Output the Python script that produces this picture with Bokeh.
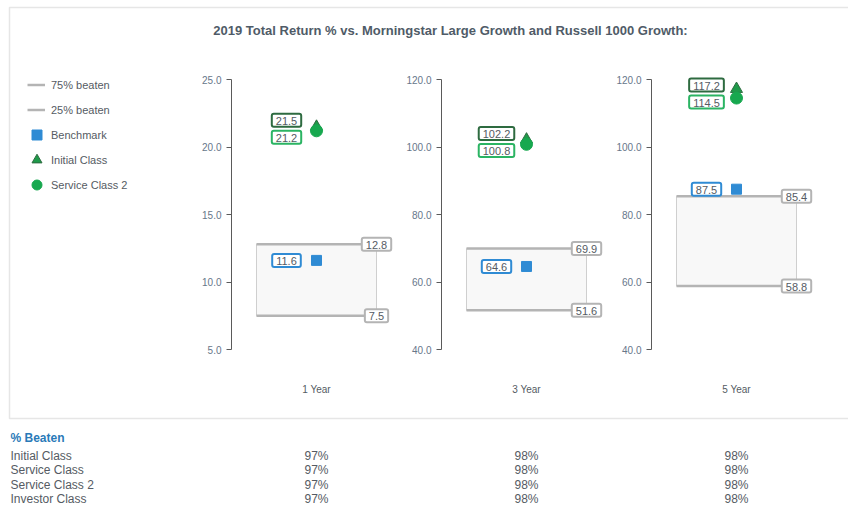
from bokeh.plotting import figure
from bokeh.models import Range1d, LinearAxis, FixedTicker, PrintfTickFormatter, Legend, LegendItem, ColumnDataSource, Label
from bokeh.core.properties import value
from bokeh.embed import file_html
from bokeh.resources import INLINE

# ---------------- data ----------------
periods = ["1 Year", "3 Year", "5 Year"]
beaten_75 = [12.8, 69.9, 85.4]
beaten_25 = [7.5, 51.6, 58.8]
benchmark = [11.6, 64.6, 87.5]
initial_class = [21.5, 102.2, 117.2]
service_class_2 = [21.2, 100.8, 114.5]
axis_min = [5.0, 40.0, 40.0]
axis_max = [25.0, 120.0, 120.0]
axis_ticks = [[5.0, 10.0, 15.0, 20.0, 25.0],
              [40.0, 60.0, 80.0, 100.0, 120.0],
              [40.0, 60.0, 80.0, 100.0, 120.0]]

table_rows = ["Initial Class", "Service Class", "Service Class 2", "Investor Class"]
pct_beaten = [[97, 98, 98], [97, 98, 98], [97, 98, 98], [97, 98, 98]]

title_text = "2019 Total Return % vs. Morningstar Large Growth and Russell 1000 Growth:"

# ---------------- styles ----------------
FONT = "Liberation Sans"
W, H = 848, 507
TOP_PX, BOT_PX = 79, 349          # pixel rows of axis max / min
COL0_PX, COL_STEP = 316, 210      # pixel centre of first column, column spacing
GRAY_TXT = "#555b63"
DARK_GREEN = "#2e6b40"
GREEN = "#17a84f"
BLUE = "#2f8bd4"
LINE_GRAY = "#b4b4b4"

p = figure(width=W, height=H, x_range=Range1d(0, W), y_range=Range1d(H, 0),
           x_axis_location=None, y_axis_location=None, min_border=0,
           toolbar_location=None, output_backend="svg", outline_line_color=None)
p.grid.visible = False
p.background_fill_color = "white"

# category x range: index -> pixels
p.extra_x_ranges["cat"] = Range1d(-COL0_PX / COL_STEP, (W - COL0_PX) / COL_STEP)

# outer border
p.quad(left=9, right=W + 2, top=7, bottom=418, fill_color=None,
       line_color="#e6e6e6", line_width=1.5)

p.add_layout(Label(x=450, y=30, text=title_text, text_align="center", text_baseline="middle",
                   text_font=FONT, text_font_size="13px", text_font_style="bold",
                   text_color="#4f5b67"))

r75 = r25 = rbm = rini = rsvc = None
half_box = 60 / COL_STEP
lab_dx = -30 / COL_STEP
for i, per in enumerate(periods):
    T, B = axis_max[i], axis_min[i]
    k = (BOT_PX - TOP_PX) / (T - B)
    rn = f"r{i}"
    p.extra_y_ranges[rn] = Range1d(T - (H - TOP_PX) / k, T + TOP_PX / k)

    ax = LinearAxis(x_range_name="cat", y_range_name=rn, fixed_location=i - 85 / COL_STEP,
                    bounds=(B, T), ticker=FixedTicker(ticks=axis_ticks[i]),
                    formatter=PrintfTickFormatter(format="%.1f"))
    ax.axis_line_color = "#5a5a5a"
    ax.major_tick_line_color = "#5a5a5a"
    ax.major_tick_out = 5
    ax.major_tick_in = 0
    ax.minor_tick_line_color = None
    ax.major_label_text_font = FONT
    ax.major_label_text_font_size = "10px"
    ax.major_label_text_color = "#67778a"
    ax.major_label_standoff = 5
    p.add_layout(ax, "left")

    kw = dict(x_range_name="cat", y_range_name=rn)
    src = ColumnDataSource(dict(
        x=[i], xl=[i - half_box], xr=[i + half_box], xlab=[i + lab_dx],
        hi=[beaten_75[i]], lo=[beaten_25[i]], bm=[benchmark[i]],
        ini=[initial_class[i]], svc=[service_class_2[i]],
        mid=[(initial_class[i] + service_class_2[i]) / 2],
        hi_t=[f"{beaten_75[i]:.1f}"], lo_t=[f"{beaten_25[i]:.1f}"], bm_t=[f"{benchmark[i]:.1f}"],
        ini_t=[f"{initial_class[i]:.1f}"], svc_t=[f"{service_class_2[i]:.1f}"]))

    p.quad(left="xl", right="xr", top="hi", bottom="lo", source=src,
           fill_color="#f8f8f8", line_color="#cfcfcf", line_width=1, **kw)
    r75 = p.segment(x0="xl", x1="xr", y0="hi", y1="hi", source=src,
                    line_color=LINE_GRAY, line_width=2.5, **kw)
    r25 = p.segment(x0="xl", x1="xr", y0="lo", y1="lo", source=src,
                    line_color=LINE_GRAY, line_width=2.5, **kw)
    rbm = p.scatter(x="x", y="bm", source=src, marker="square", size=10,
                    fill_color=BLUE, line_color=BLUE, **kw)
    rini = p.scatter(x="x", y="ini", source=src, marker="triangle", size=12,
                     fill_color="#1f9a4a", line_color=DARK_GREEN, line_width=1, **kw)
    rsvc = p.scatter(x="x", y="svc", source=src, marker="circle", size=12,
                     fill_color=GREEN, line_color=GREEN, **kw)

    tkw = dict(text_font=value(FONT), text_font_size="11px", text_color=GRAY_TXT,
               text_align="center", text_baseline="middle",
               background_fill_color="white", border_line_width=2, border_radius=2,
               padding=dict(left=4, right=4, top=3, bottom=2))
    p.text(x="xr", y="hi", text="hi_t", source=src, border_line_color=LINE_GRAY, **tkw, **kw)
    p.text(x="xr", y="lo", text="lo_t", source=src, border_line_color=LINE_GRAY, **tkw, **kw)
    p.text(x="xlab", y="bm", text="bm_t", source=src, border_line_color=BLUE, **tkw, **kw)
    p.text(x="xlab", y="mid", text="ini_t", source=src, y_offset=-8.5,
           border_line_color=DARK_GREEN, **tkw, **kw)
    p.text(x="xlab", y="mid", text="svc_t", source=src, y_offset=8.5,
           border_line_color="#2bb463", **tkw, **kw)

# period labels under panels
per_src = ColumnDataSource(dict(x=list(range(len(periods))), y=[389] * len(periods), t=periods))
p.text(x="x", y="y", text="t", source=per_src, x_range_name="cat",
       text_font=value(FONT), text_font_size="10px", text_color=GRAY_TXT,
       text_align="center", text_baseline="middle")

common_leg = dict(orientation="vertical", padding=0, margin=0, spacing=0,
                  label_text_font=FONT, label_text_font_size="11px", label_text_color=GRAY_TXT,
                  border_line_color=None, background_fill_alpha=0)
legend_lines = Legend(items=[
    LegendItem(label="75% beaten", renderers=[r75]),
    LegendItem(label="25% beaten", renderers=[r25]),
], location=(27, H - 122), label_height=25, glyph_height=25, glyph_width=18,
    label_standoff=6, **common_leg)
legend_marks = Legend(items=[
    LegendItem(label="Benchmark", renderers=[rbm]),
    LegendItem(label="Initial Class", renderers=[rini]),
    LegendItem(label="Service Class 2", renderers=[rsvc]),
], location=(24, H - 197), label_height=25, glyph_height=25, glyph_width=25,
    label_standoff=2, **common_leg)
p.add_layout(legend_lines, "center")
p.add_layout(legend_marks, "center")

# % Beaten table
p.add_layout(Label(x=10, y=437, text="% Beaten", text_baseline="middle",
                   text_font=FONT, text_font_size="12px", text_font_style="bold",
                   text_color="#2a7ab8"))
row_y0, row_dy = 455, 14.5
tx, ty, tt = [], [], []
for r, name in enumerate(table_rows):
    for c in range(len(periods)):
        tx.append(c)
        ty.append(row_y0 + r * row_dy)
        tt.append(f"{pct_beaten[r][c]}%")
p.text(x="x", y="y", text="t", source=ColumnDataSource(dict(x=tx, y=ty, t=tt)),
       x_range_name="cat", text_font=value(FONT), text_font_size="12px",
       text_color=GRAY_TXT, text_align="center", text_baseline="middle")
p.text(x=[10] * len(table_rows), y=[row_y0 + r * row_dy for r in range(len(table_rows))],
       text=table_rows, text_font=value(FONT), text_font_size="12px",
       text_color=GRAY_TXT, text_align="left", text_baseline="middle")

open("out.html", "w").write(file_html(p, INLINE))
